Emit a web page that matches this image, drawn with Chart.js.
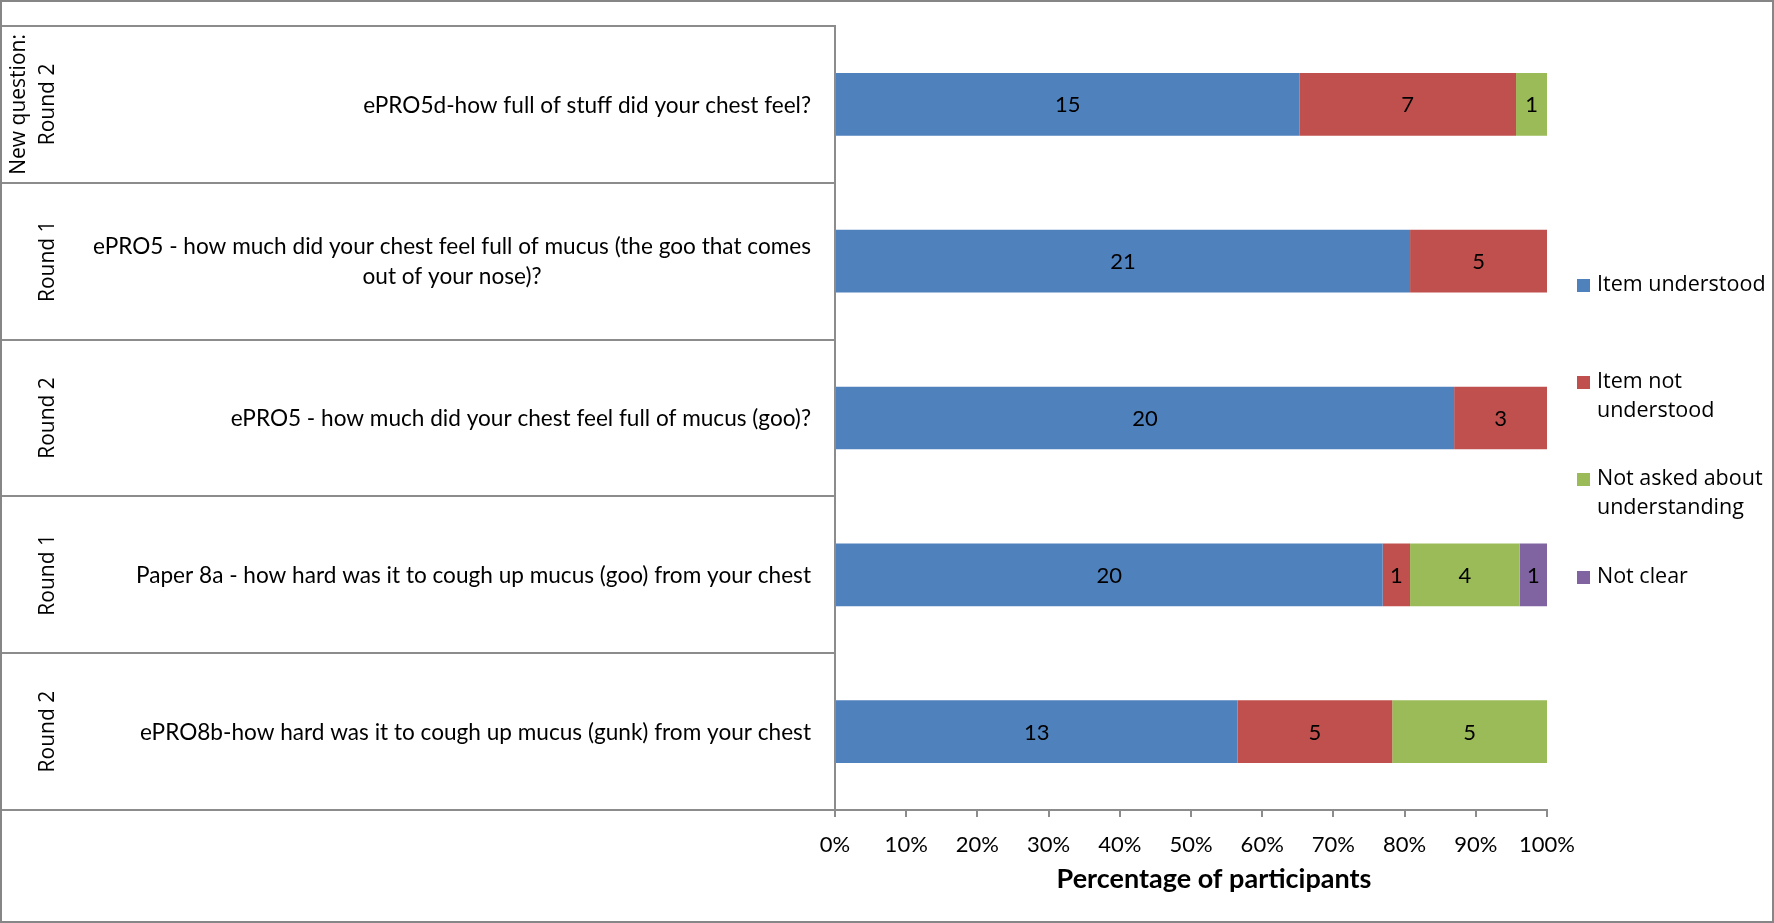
<!DOCTYPE html>
<html><head><meta charset="utf-8">
<script src="https://cdn.jsdelivr.net/npm/chart.js@4.4.0/dist/chart.umd.min.js"></script>
<style>html,body{margin:0;padding:0;background:#fff;overflow:hidden}</style>
</head><body>
<canvas id="c" width="1774" height="923"></canvas>
<script>
// ---- data ----
const rounds = [["New question:", "Round 2"], ["Round 1"], ["Round 2"], ["Round 1"], ["Round 2"]];
const questions = [
  ["ePRO5d-how full of stuff did your chest feel?"],
  ["ePRO5 - how much did your chest feel full of mucus (the goo that comes", "out of your nose)?"],
  ["ePRO5 - how much did your chest feel full of mucus (goo)?"],
  ["Paper 8a - how hard was it to cough up mucus (goo) from your chest"],
  ["ePRO8b-how hard was it to cough up mucus (gunk) from your chest"]
];
const seriesNames = ["Item understood", "Item not understood", "Not asked about understanding", "Not clear"];
const legendLines = [["Item understood"], ["Item not", "understood"], ["Not asked about", "understanding"], ["Not clear"]];
const itemUnderstood = [15, 21, 20, 20, 13];
const itemNotUnderstood = [7, 5, 3, 1, 5];
const notAsked = [1, 0, 0, 4, 5];
const notClear = [0, 0, 0, 1, 0];
const xTickValues = [0, 10, 20, 30, 40, 50, 60, 70, 80, 90, 100];
const xTitle = "Percentage of participants";
const colors = ['#4F81BD', '#C0504D', '#9BBB59', '#8064A2'];

const counts = [itemUnderstood, itemNotUnderstood, notAsked, notClear];
const totals = itemUnderstood.map((_, i) => counts.reduce((s, a) => s + a[i], 0));
const pct = counts.map(a => a.map((v, i) => v / totals[i] * 100));

const LINE = '#8c8c8c';
const QFONT = '22.6px Lato';
const RFONT = '21px "Open Sans"';
const LFONT = '21.5px "Open Sans"';

const tablePlugin = {
  id: 'table',
  afterDraw(chart) {
    const ctx = chart.ctx;
    const ys = chart.scales.y;
    const ca = chart.chartArea;
    const n = questions.length;
    const step = ys.getPixelForValue(1) - ys.getPixelForValue(0);
    ctx.save();
    // table horizontal lines
    ctx.strokeStyle = LINE; ctx.lineWidth = 2;
    for (let i = 0; i <= n; i++) {
      const y = Math.round(ys.getPixelForValue(0) - step / 2 + i * step);
      ctx.beginPath(); ctx.moveTo(1, y); ctx.lineTo(ca.left, y); ctx.stroke();
    }
    // round labels (rotated)
    ctx.fillStyle = '#000';
    ctx.font = RFONT;
    ctx.textAlign = 'center'; ctx.textBaseline = 'middle';
    for (let i = 0; i < n; i++) {
      const yc = ys.getPixelForValue(i);
      const lines = rounds[i];
      const xs = lines.length === 2 ? [19, 48] : [48];
      lines.forEach((t, k) => {
        ctx.save();
        ctx.translate(xs[k], yc);
        ctx.rotate(-Math.PI / 2);
        ctx.fillText(t, 0, 0);
        ctx.restore();
      });
    }
    // question labels
    ctx.font = QFONT;
    const rightEdge = ca.left - 24;
    const lh = 30;
    for (let i = 0; i < n; i++) {
      const yc = ys.getPixelForValue(i);
      const lines = questions[i];
      const w = Math.max(...lines.map(t => ctx.measureText(t).width));
      const cx = rightEdge - w / 2;
      lines.forEach((t, k) => {
        ctx.fillText(t, cx, yc + 1 + (k - (lines.length - 1) / 2) * lh);
      });
    }
    // data labels
    ctx.font = '22px Lato';
    chart.data.datasets.forEach((ds, di) => {
      const meta = chart.getDatasetMeta(di);
      meta.data.forEach((el, j) => {
        const v = counts[di][j];
        if (!v) return;
        ctx.fillText(String(v), (el.x + el.base) / 2, el.y + 1);
      });
    });
    // axis title
    ctx.font = 'bold 27px Lato';
    ctx.fillText(xTitle, (ca.left + ca.right) / 2 + 23, 879);
    // legend
    ctx.font = LFONT;
    ctx.textAlign = 'left';
    const legY = [285, 382, 479, 577];
    legendLines.forEach((lines, i) => {
      ctx.fillStyle = colors[i];
      ctx.fillRect(1577, legY[i] - 6, 13, 13);
      ctx.fillStyle = '#000';
      lines.forEach((t, k) => ctx.fillText(t, 1597, legY[i] + k * 29));
    });
    // outer border
    ctx.strokeStyle = '#868686'; ctx.lineWidth = 2;
    ctx.strokeRect(1, 1, chart.width - 2, chart.height - 2);
    ctx.restore();
  }
};

new Chart(document.getElementById('c'), {
  type: 'bar',
  data: {
    labels: questions.map(q => q.join(' ')),
    datasets: seriesNames.map((name, i) => ({
      label: name,
      data: pct[i],
      backgroundColor: colors[i],
      borderWidth: 0,
      barPercentage: 0.4,
      categoryPercentage: 1.0
    }))
  },
  options: {
    indexAxis: 'y',
    responsive: false,
    devicePixelRatio: 1,
    animation: false,
    layout: { padding: { top: 26, right: 227, bottom: 0, left: 0 } },
    plugins: { legend: { display: false }, tooltip: { enabled: false } },
    scales: {
      x: {
        stacked: true,
        min: 0, max: 100,
        afterBuildTicks: (s) => { s.ticks = xTickValues.map(v => ({ value: v })); },
        afterFit: (s) => { s.height = 113; },
        grid: { display: true, drawOnChartArea: false, drawTicks: true, tickLength: 7, color: LINE, lineWidth: 2 },
        border: { display: true, color: LINE, width: 2 },
        ticks: {
          color: '#000', padding: 15,
          font: { family: 'Lato', size: 22 },
          callback: (v) => v + '%', maxRotation: 0, autoSkip: false
        },
        title: { display: false }
      },
      y: {
        stacked: true,
        afterFit: (s) => { s.width = 835; },
        grid: { display: false },
        border: { display: true, color: LINE, width: 2 },
        ticks: { display: false }
      }
    }
  },
  plugins: [tablePlugin]
});
</script>
</body></html>
